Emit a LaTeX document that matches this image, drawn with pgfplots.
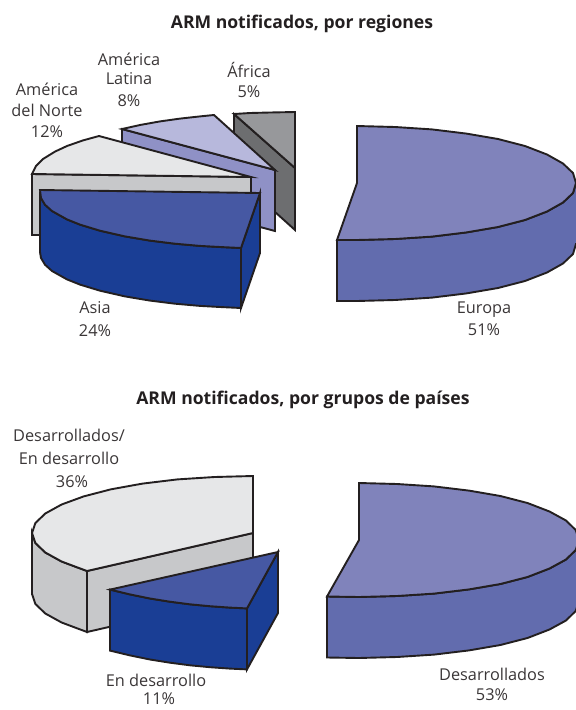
\documentclass[border=0pt]{standalone}
\usepackage{fontspec}
\setmainfont{Open Sans}
\usepackage{pgfplots}
\pgfplotsset{compat=1.18}
\definecolor{edge}{HTML}{231F20}
\definecolor{ink}{HTML}{3A3637}
\definecolor{euTop}{HTML}{8083BB}
\definecolor{euSide}{HTML}{626CAE}
\definecolor{asTop}{HTML}{4658A3}
\definecolor{asSide}{HTML}{1A3E95}
\definecolor{naTop}{HTML}{E6E7E8}
\definecolor{naSide}{HTML}{C7C8CA}
\definecolor{laTop}{HTML}{B7B8DC}
\definecolor{laSide}{HTML}{8F91C6}
\definecolor{afTop}{HTML}{97989B}
\definecolor{afSide}{HTML}{6D6E70}
\tikzset{
  wedge/.style={draw=edge,line width=1.9pt,line join=miter,mark=none,fill=#1},
  lbl/.style={text=ink,font=\fontsize{16.3}{18}\selectfont,inner sep=0pt,anchor=center},
  ttl/.style={text=edge,font=\fontsize{17.6}{20}\selectfont\bfseries,inner sep=0pt,anchor=center}
}
\begin{document}
\begin{tikzpicture}
\begin{axis}[
  scale only axis,width=576pt,height=710pt,
  xmin=0,xmax=576,ymin=0,ymax=710,y dir=reverse,
  axis lines=none,clip=true
]
% Regions: Africa
\addplot[wedge=afSide] coordinates {(234,114)(295,168)(295,230)(234,175)} --cycle;
\addplot[wedge=afTop] coordinates {(234,114)(250,113)(270,112.5)(295,112)(295,168)} --cycle;
% Regions: Latin America
\addplot[wedge=laSide] coordinates {(122,129)(275,170)(275,231)(122,190)} --cycle;
\addplot[wedge=laTop] coordinates {(122,129)(140,125)(160,121.4)(180,118.6)(200,116.4)(214,115)(275,170)} --cycle;
% Regions: North America
\addplot[wedge=naSide] coordinates {(32,174)(251,177)(251,236)(32,235)} --cycle;
\addplot[wedge=naTop] coordinates {(32,174)(36,166)(43,159)(55,151.6)(67,146)(83,140.4)(99,136)(251,177)} --cycle;
% Regions: Asia
\addplot[wedge=asSide] coordinates {(260,193)(241,248)(241,308)(260,253)} --cycle;
\addplot[wedge=asSide] coordinates {(40,192)(41,198)(45,204.7)(52,211)(67,219.4)(80,224.6)(100,230.7)(125,236.4)(150,240.6)(175,243.7)(200,245.9)(220,247)(241,248)(241,308)(220,307)(200,305.9)(175,303.7)(150,300.6)(125,296.4)(100,290.7)(80,284.6)(67,279.4)(52,271)(45,264.7)(41,258)(40,252)} --cycle;
\addplot[wedge=asTop] coordinates {(40,190)(260,193)(241,248)(220,247)(200,245.9)(175,243.7)(150,240.6)(125,236.4)(100,230.7)(80,224.6)(67,219.4)(52,211)(45,204.7)(41,198)} --cycle;
% Regions: Europe
\addplot[wedge=euSide] coordinates {(337,240)(357,240)(395,239)(432,236.6)(466.5,232.4)(498,227)(525,220)(547,211.5)(563,202.5)(573,193)(576,183)(585,183)(585,244)(576,244)(573,254)(563,263.5)(547,272.5)(525,281)(498,288)(466.5,293.4)(432,297.6)(395,300)(357,301)(337,301)} --cycle;
\addplot[wedge=euTop] coordinates {(357,126)(395,127)(432,129.4)(466.5,133.6)(498,139)(525,146)(547,154.5)(563,163.5)(573,173)(576,183)(573,193)(563,202.5)(547,211.5)(525,220)(498,227)(466.5,232.4)(432,236.6)(395,239)(357,240)(337,240)(357,183)} --cycle;
% Country groups: developed / developing
\addplot[wedge=naSide] coordinates {(87,571)(253,533)(253,594)(87,632)} --cycle;
\addplot[wedge=naSide] coordinates {(32,533)(35.4,543)(45.3,552.5)(61.6,561.5)(87,571)(87,632)(61.6,622.5)(45.3,613.5)(35.4,604)(32,594)} --cycle;
\addplot[wedge=naTop] coordinates {(253,476)(214.6,477)(177.4,479.4)(142.5,483.6)(111,489.3)(83.7,496.4)(61.6,504.5)(45.3,513.5)(35.4,523)(32,533)(35.4,543)(45.3,552.5)(61.6,561.5)(87,571)(253,533)} --cycle;
% Country groups: developing
\addplot[wedge=asSide] coordinates {(278,552)(247,608.4)(247,669.4)(278,613)} --cycle;
\addplot[wedge=asSide] coordinates {(110,589.6)(130,594.4)(150,598.5)(170,601.7)(190,604.3)(210,606.2)(230,607.6)(247,608.4)(247,669.4)(230,668.6)(210,667.2)(190,665.3)(170,662.7)(150,659.5)(130,655.4)(110,650.6)} --cycle;
\addplot[wedge=asTop] coordinates {(110,589.6)(278,552)(247,608.4)(230,607.6)(210,606.2)(190,604.3)(170,601.7)(150,598.5)(130,594.4)} --cycle;
% Country groups: developed
\addplot[wedge=euSide] coordinates {(327,596.5)(359,597)(397,596)(434,593.6)(469,589.4)(500.4,584)(527.5,577)(549.5,568.5)(566,559.5)(575.7,550)(579,540)(588,540)(588,601)(579,601)(575.7,611)(566,620.5)(549.5,629.5)(527.5,638)(500.4,645)(469,650.4)(434,654.6)(397,657)(359,658)(327,657.5)} --cycle;
\addplot[wedge=euTop] coordinates {(359,483)(397,484)(434,486.4)(469,490.6)(500.4,496)(527.5,503)(549.5,511.5)(566,520.5)(575.7,530)(579,540)(575.7,550)(566,559.5)(549.5,568.5)(527.5,577)(500.4,584)(469,589.4)(434,593.6)(397,596)(359,597)(327,596.5)(359,540)} --cycle;
% Titles and slice labels
\node[ttl] at (axis cs:302,24) {ARM notificados, por regiones};
\node[ttl] at (axis cs:303,400) {ARM notificados, por grupos de países};
\node[lbl] at (axis cs:129,59) {América};
\node[lbl] at (axis cs:129,79) {Latina};
\node[lbl] at (axis cs:129,101) {8\%};
\node[lbl] at (axis cs:249,70) {África};
\node[lbl] at (axis cs:249,92) {5\%};
\node[lbl] at (axis cs:47,89) {América};
\node[lbl] at (axis cs:47,110) {del Norte};
\node[lbl] at (axis cs:47,132) {12\%};
\node[lbl] at (axis cs:95,308) {Asia};
\node[lbl] at (axis cs:95,331) {24\%};
\node[lbl] at (axis cs:484,310) {Europa};
\node[lbl] at (axis cs:484,330) {51\%};
\node[lbl] at (axis cs:69,435) {Desarrollados/};
\node[lbl] at (axis cs:69,458) {En desarrollo};
\node[lbl] at (axis cs:72,482) {36\%};
\node[lbl] at (axis cs:156,680) {En desarrollo};
\node[lbl] at (axis cs:159,698.5) {11\%};
\node[lbl] at (axis cs:492,674) {Desarrollados};
\node[lbl] at (axis cs:492,695) {53\%};
\end{axis}
% The page covers the full drawing area
\pgfresetboundingbox
\path[use as bounding box] (0,0) rectangle (576pt,710pt);
\end{tikzpicture}
\end{document}
